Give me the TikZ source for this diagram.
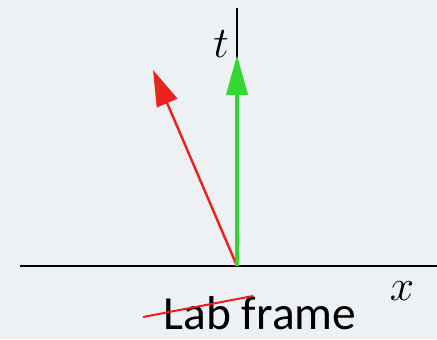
\documentclass[tikz,border=0pt]{standalone}
\usepackage{fontspec}
\setmainfont{Carlito}
\usetikzlibrary{arrows.meta,positioning,calc}
\definecolor{paper}{HTML}{EEF1F4}
\definecolor{vred}{HTML}{E8241E}
\definecolor{vgreen}{HTML}{33D633}
\definecolor{strike}{HTML}{F01818}
\tikzset{
  axisline/.style={line width=1.1pt, color=black},
  garr/.style={-{Triangle[length=0.8cm, width=0.42cm]}, line width=2.4pt, color=vgreen},
  rarr/.style={-{Triangle[length=0.72cm, width=0.44cm]}, line width=1.4pt, color=vred},
  axlabel/.style={font=\fontsize{30}{34}\selectfont, inner sep=0pt}}

\begin{document}
\begin{tikzpicture}[x=0.02cm, y=-0.02cm]
    \fill[paper] (0,0) rectangle (437,339);
    \useasboundingbox (0,0) rectangle (437,339);
    \coordinate (o) at (237,266);
    \coordinate (xl) at (20,266);
    \coordinate (xr) at (437,266);
    \coordinate (ttop) at (237,8);
    \coordinate (gtip) at (237,55);
    \coordinate (rtip) at (153,70);
    \draw[axisline] (xl) -- (xr);
    \draw[axisline] (o) -- (ttop);
    \draw[rarr] (o) -- (rtip);
    \draw[garr] (o) -- (gtip);
    \node[axlabel] (tlab) at (221,44) {$t$};
    \node[axlabel] (xlab) at (402,291) {$x$};
    \node[inner sep=0pt, font=\fontsize{27}{30}\selectfont] (lab) at (260,313) {Lab frame};
    \coordinate (s1) at (143,317);
    \coordinate (s2) at (253,296);
    \draw[strike, line width=1.1pt] (s1) -- (s2);
  \end{tikzpicture}
\end{document}
